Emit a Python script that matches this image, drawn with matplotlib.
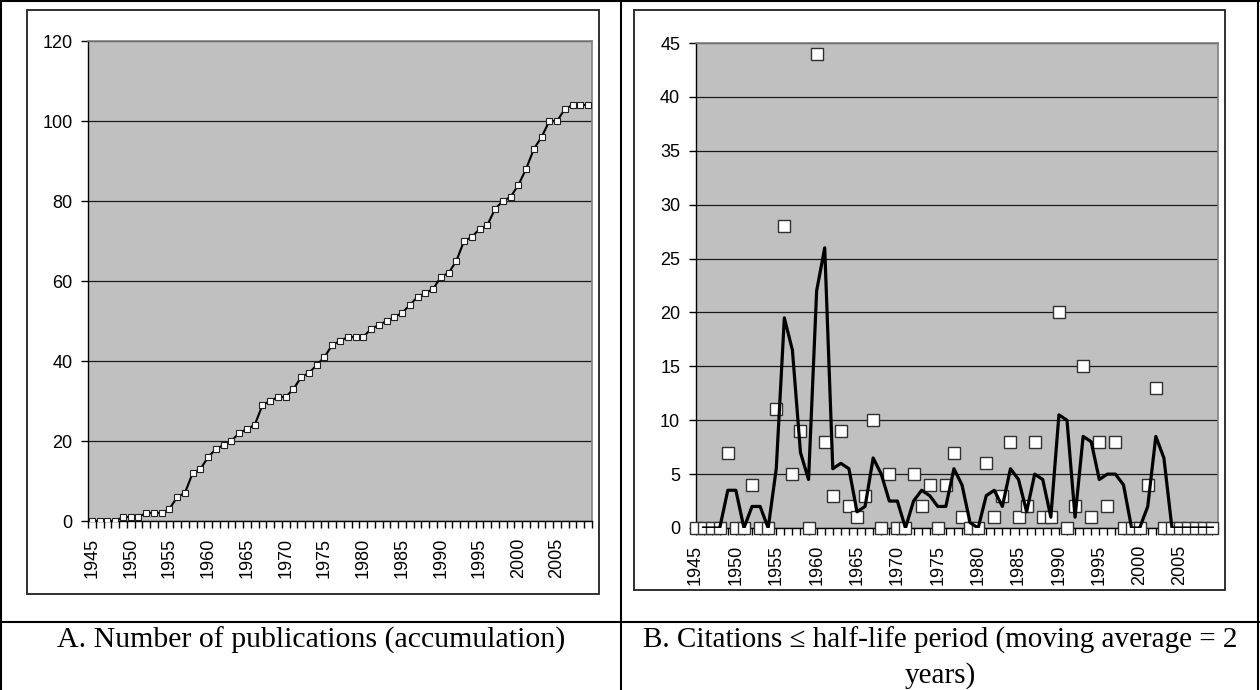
import matplotlib
matplotlib.use("Agg")
import matplotlib.pyplot as plt
from matplotlib.patches import Rectangle
from matplotlib.lines import Line2D
import numpy as np
import pandas as pd

years = list(range(1945, 2010))

publications_cumulative = [
    0, 0, 0, 0, 1, 1, 1, 2, 2, 2,          # 1945-1954
    3, 6, 7, 12, 13, 16, 18, 19, 20, 22,   # 1955-1964
    23, 24, 29, 30, 31, 31, 33, 36, 37, 39,  # 1965-1974
    41, 44, 45, 46, 46, 46, 48, 49, 50, 51,  # 1975-1984
    52, 54, 56, 57, 58, 61, 62, 65, 70, 71,  # 1985-1994
    73, 74, 78, 80, 81, 84, 88, 93, 96, 100,  # 1995-2004
    100, 103, 104, 104, 104,                  # 2005-2009
]

citations = [
    0, 0, 0, 0, 7, 0, 0, 4, 0, 0,          # 1945-1954
    11, 28, 5, 9, 0, 44, 8, 3, 9, 2,       # 1955-1964
    1, 3, 10, 0, 5, 0, 0, 5, 2, 4,         # 1965-1974
    0, 4, 7, 1, 0, 0, 6, 1, 3, 8,          # 1975-1984
    1, 2, 8, 1, 1, 20, 0, 2, 15, 1,        # 1985-1994
    8, 2, 8, 0, 0, 0, 4, 13, 0, 0,         # 1995-2004
    0, 0, 0, 0, 0,                          # 2005-2009
]

label_years = list(range(1945, 2010, 5))
left_yticks = [0, 20, 40, 60, 80, 100, 120]
right_yticks = [0, 5, 10, 15, 20, 25, 30, 35, 40, 45]

caption_a = "A. Number of publications (accumulation)"
caption_b1 = "B. Citations \u2264 half-life period (moving average = 2"
caption_b2 = "years)"

moving_avg = pd.Series(citations, index=years).rolling(2).mean()

W, H = 1260, 690
fig = plt.figure(figsize=(W / 100, H / 100), dpi=100)
fig.patch.set_facecolor("white")


def fx(x):
    return x / W


def fy(y):
    return 1 - y / H


tick_font = {"family": ["Liberation Sans", "DejaVu Sans"], "size": 13}
GRAY = "#C0C0C0"


def style_axes(ax):
    ax.set_facecolor(GRAY)
    for s in ("top", "right"):
        ax.spines[s].set_color("#808080")
        ax.spines[s].set_linewidth(1.2)
    for s in ("left", "bottom"):
        ax.spines[s].set_color("black")
        ax.spines[s].set_linewidth(1.0)
    ax.yaxis.grid(True, color="#1a1a1a", linewidth=0.9)
    ax.set_axisbelow(True)
    ax.tick_params(axis="y", direction="out", length=5, width=1, pad=6)
    for lab in ax.get_yticklabels():
        lab.set_fontfamily(tick_font["family"])
        lab.set_fontsize(tick_font["size"])


# ---------- Left panel ----------
axL = fig.add_axes([fx(88), fy(521), fx(592) - fx(88), fy(41) - fy(521)])
axL.plot(years, publications_cumulative, color="black", linewidth=1.5,
         marker="s", markersize=4.4, markerfacecolor="white",
         markeredgecolor="#202020", markeredgewidth=0.8, zorder=3)
axL.set_xlim(1944.5, 2009.5)
axL.set_ylim(0, 120)
axL.set_yticks(left_yticks)
axL.set_yticklabels([str(v) for v in left_yticks])
axL.set_xticks(label_years)
axL.set_xticklabels([str(y) for y in label_years], rotation=90,
                    fontfamily=tick_font["family"], fontsize=tick_font["size"])
axL.set_xticks(np.arange(1944.5, 2010.0, 1.0), minor=True)
axL.tick_params(axis="x", which="major", length=0, pad=12)
axL.tick_params(axis="x", which="minor", direction="out", length=5, width=1)
style_axes(axL)

# ---------- Right panel ----------
axR = fig.add_axes([fx(695.5), fy(528), fx(1218) - fx(695.5), fy(43) - fy(528)])
axR.plot(years, citations, linestyle="none", marker="s", markersize=8,
         markerfacecolor="white", markeredgecolor="#303030",
         markeredgewidth=1.0, zorder=3, clip_on=False)
axR.plot(moving_avg.index, moving_avg.values, color="black", linewidth=2.3,
         zorder=4)
axR.set_xlim(1945, 2009.7)
axR.set_ylim(0, 45)
axR.set_yticks(right_yticks)
axR.set_yticklabels([str(v) for v in right_yticks])
axR.set_xticks(label_years)
axR.set_xticklabels([str(y) for y in label_years], rotation=90,
                    fontfamily=tick_font["family"], fontsize=tick_font["size"])
axR.set_xticks(years, minor=True)
axR.tick_params(axis="x", which="both", direction="out", length=5, width=1,
                pad=7)
style_axes(axR)

# ---------- Chart frames ----------
for (x0, y0, x1, y1) in [(27, 10, 599, 594), (634, 10, 1225, 590)]:
    fig.patches.append(Rectangle((fx(x0), fy(y1)), fx(x1) - fx(x0),
                                 fy(y0) - fy(y1), transform=fig.transFigure,
                                 fill=False, edgecolor="#202020",
                                 linewidth=1.3))

# ---------- Table lines ----------
table_lines = [
    ((1, 1), (0, 690)),
    ((621, 621), (0, 690)),
    ((1258, 1258), (0, 690)),
    ((0, 1260), (1, 1)),
    ((0, 1260), (622, 622)),
]
for xs, ys in table_lines:
    fig.lines.append(Line2D([fx(v) for v in xs], [fy(v) for v in ys],
                            transform=fig.transFigure, color="black",
                            linewidth=1.5))

cap_font = ["Liberation Serif", "DejaVu Serif"]
fig.text(fx(311), fy(640), caption_a, ha="center", va="center",
         fontfamily=cap_font, fontsize=21.5)
fig.text(fx(940), fy(640), caption_b1, ha="center", va="center",
         fontfamily=cap_font, fontsize=21)
fig.text(fx(940), fy(676), caption_b2, ha="center", va="center",
         fontfamily=cap_font, fontsize=21)

fig.savefig("out.png", dpi=100)
